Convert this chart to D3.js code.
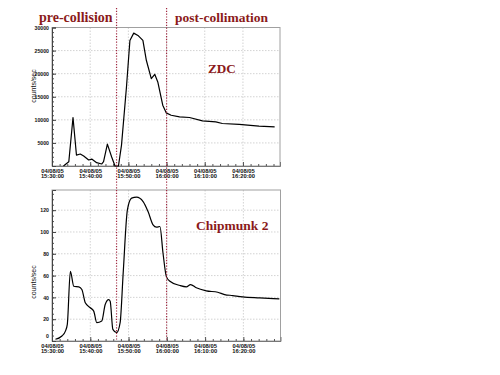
<!DOCTYPE html>
<html><head><meta charset="utf-8">
<script src="https://cdn.jsdelivr.net/npm/d3@7"></script>
<style>body{margin:0;background:#fff}svg{display:block}</style>
</head><body>
<svg id="c" width="500" height="375"></svg>
<script>
// ---- data (minutes after 15:30:00 on 04/08/05) ----
const zdcMinutes = [3.0, 4.4, 5.5, 6.4, 7.4, 8.3, 9.6, 10.4, 11.7, 13.0, 13.5, 14.5, 15.6, 16.5, 17.4, 18.2, 19.5, 20.4, 21.4, 22.5, 23.8, 24.7, 26.0, 26.9, 27.7, 29.0, 29.9, 31.2, 33.4, 36.0, 39.4, 42.9, 44.6, 49.0, 54.2, 58.3];
const zdcValues  = [0, 930, 10500, 2370, 2590, 2160, 1300, 1500, 720, 430, 930, 4740, 2000, 0, 0, 4530, 17120, 27200, 28780, 28280, 27200, 22900, 18930, 19860, 18200, 13170, 11510, 11000, 10640, 10500, 9780, 9570, 9210, 9000, 8630, 8490];
const chipMinutes = [0.9, 2.6, 3.5, 4.0, 4.8, 5.7, 7.0, 7.8, 8.7, 10.0, 10.9, 11.7, 13.0, 13.9, 14.8, 15.2, 15.9, 16.9, 17.8, 18.6, 19.7, 20.8, 22.1, 23.8, 25.1, 26.4, 27.3, 28.2, 29.0, 29.9, 30.8, 33.4, 35.1, 36.2, 37.7, 40.3, 43.3, 45.1, 47.2, 49.8, 54.2, 59.4];
const chipValues  = [1.6, 4.6, 9.1, 15.3, 63.9, 50.2, 49.7, 47.2, 35, 30.5, 27.4, 16.8, 18.3, 33.5, 38, 36.5, 10.7, 7.7, 16.8, 62.5, 120.3, 131, 131.9, 127.9, 118.7, 106.6, 104.5, 105, 80.7, 58.8, 54.8, 50.9, 49.7, 51.8, 48.8, 46, 44.7, 42.6, 41.7, 40.5, 39.6, 38.7];
const markerMinutes = [16.9, 30.0];
const zdcYTicks = [5000, 10000, 15000, 20000, 25000, 30000];
const chipYTicks = [0, 20, 40, 60, 80, 100, 120];
const phaseLabels = ["pre-collision", "post-collimation"];
const panelLabels = ["ZDC", "Chipmunk 2"];
const yTitle = "counts/sec";

const t0 = new Date(2005, 7, 4, 15, 30, 0);
const toDate = m => new Date(t0.getTime() + m * 60000);
const endDate = toDate(59.7);

const svg = d3.select("#c");
const red = "#8b1a1a";
const fmtDate = d3.timeFormat("%d/%m/%y"), fmtTime = d3.timeFormat("%H:%M:%S");
const sans = "Arial, 'Liberation Sans', sans-serif";
const serif = "'Liberation Serif', 'Times New Roman', serif";

function panel(cfg) {
  const {top, bottom, left, right, yMax, yTicks, minorStep, minutes, values, label, labelX, labelY, labelSize, curve, titleY} = cfg;
  const x = d3.scaleTime().domain([t0, endDate]).range([left, right]);
  const y = d3.scaleLinear().domain([0, yMax]).range([bottom, top]);
  const g = svg.append("g");
  // grid
  const majorX = d3.timeMinute.every(10).range(t0, endDate);
  g.selectAll(".gx").data(majorX.slice(1)).join("line")
    .attr("x1", d => x(d)).attr("x2", d => x(d)).attr("y1", top).attr("y2", bottom)
    .attr("stroke", "#c8c8c8").attr("stroke-width", 0.8).attr("stroke-dasharray", "1.5,1.5");
  g.selectAll(".gy").data(yTicks.filter(v => v > 0)).join("line")
    .attr("x1", left).attr("x2", right).attr("y1", d => y(d)).attr("y2", d => y(d))
    .attr("stroke", "#c8c8c8").attr("stroke-width", 0.8).attr("stroke-dasharray", "1.5,1.5");
  // frame
  g.append("rect").attr("x", left).attr("y", top).attr("width", right - left).attr("height", bottom - top)
    .attr("fill", "none").attr("stroke", "#a0a0a0").attr("stroke-width", 1);
  // minor ticks
  const minorX = d3.timeMinute.every(2).range(t0, endDate);
  const xMinor = d3.axisBottom(x).tickValues(minorX).tickSize(-2).tickFormat("");
  g.append("g").attr("transform", `translate(0,${bottom})`).call(xMinor)
    .call(a => a.select(".domain").remove()).selectAll("line").attr("stroke", "#555");
  const minorY = d3.range(0, yMax, minorStep);
  const yMinor = d3.axisLeft(y).tickValues(minorY).tickSize(-2).tickFormat("");
  g.append("g").attr("transform", `translate(${left},0)`).call(yMinor)
    .call(a => a.select(".domain").remove()).selectAll("line").attr("stroke", "#555");
  // major axes
  const xAx = d3.axisBottom(x).tickValues(majorX).tickSize(-4).tickPadding(2).tickFormat("");
  const xg = g.append("g").attr("transform", `translate(0,${bottom})`).call(xAx);
  xg.select(".domain").attr("stroke", "#777");
  xg.selectAll(".tick line").attr("stroke", "#555");
  xg.selectAll(".tick").append("text").attr("fill", "#111")
    .attr("font-family", sans).attr("font-size", 5.8).attr("font-weight", "bold")
    .attr("text-anchor", "middle")
    .each(function(d) {
      const t = d3.select(this);
      t.append("tspan").attr("x", 0).attr("y", 6.5).text(fmtDate(d));
      t.append("tspan").attr("x", 0).attr("y", 12).text(fmtTime(d));
    });
  const yAx = d3.axisLeft(y).tickValues(yTicks).tickSize(-4).tickPadding(3).tickFormat(d3.format("d"));
  const yg = g.append("g").attr("transform", `translate(${left},0)`).call(yAx);
  yg.select(".domain").attr("stroke", "#444");
  yg.selectAll(".tick line").attr("stroke", "#444");
  yg.selectAll(".tick text").attr("fill", "#111").attr("font-size", 5.2).attr("font-weight", "bold")
    .attr("font-family", sans)
    .attr("dy", d => d === 0 ? "-0.6em" : "0.32em");
  // y title
  g.append("text").attr("transform", `translate(36,${titleY}) rotate(-90)`).attr("text-anchor", "middle")
    .attr("font-family", sans).attr("font-size", 7).attr("fill", "#111")
    .text(yTitle);
  // data line
  const pts = minutes.map((m, i) => [toDate(m), values[i]]);
  g.append("path").datum(pts).attr("fill", "none").attr("stroke", "#000").attr("stroke-width", 1.2)
    .attr("stroke-linejoin", "round")
    .attr("d", d3.line().x(d => x(d[0])).y(d => y(d[1])).curve(curve));
  // panel label
  g.append("text").attr("x", labelX).attr("y", labelY).attr("fill", red)
    .attr("font-family", serif).attr("font-weight", "bold")
    .attr("font-size", labelSize).text(label);
  return x;
}

const x1 = panel({top: 27.5, bottom: 166, left: 52, right: 280, yMax: 30000, yTicks: zdcYTicks, minorStep: 1000,
  minutes: zdcMinutes, values: zdcValues, label: panelLabels[0], labelX: 208, labelY: 73, labelSize: 13.2, curve: d3.curveLinear, titleY: 86});
const x2 = panel({top: 190, bottom: 341, left: 52, right: 280.5, yMax: 138.5, yTicks: chipYTicks, minorStep: 5,
  minutes: chipMinutes, values: chipValues, label: panelLabels[1], labelX: 196, labelY: 230, labelSize: 13.5, curve: d3.curveMonotoneX, titleY: 282});

// phase marker lines
svg.selectAll(".mk").data(markerMinutes).join("line")
  .attr("x1", d => x1(toDate(d))).attr("x2", d => x1(toDate(d))).attr("y1", 8).attr("y2", 340)
  .attr("stroke", "#a02840").attr("stroke-width", 1.2).attr("stroke-dasharray", "1.2,1.6");

// phase titles
svg.append("text").attr("x", 39).attr("y", 22).attr("fill", red)
  .attr("font-family", serif).attr("font-weight", "bold")
  .attr("font-size", 14).text(phaseLabels[0]);
svg.append("text").attr("x", 175).attr("y", 22).attr("fill", red)
  .attr("font-family", serif).attr("font-weight", "bold")
  .attr("font-size", 13.5).text(phaseLabels[1]);
</script>
</body></html>
